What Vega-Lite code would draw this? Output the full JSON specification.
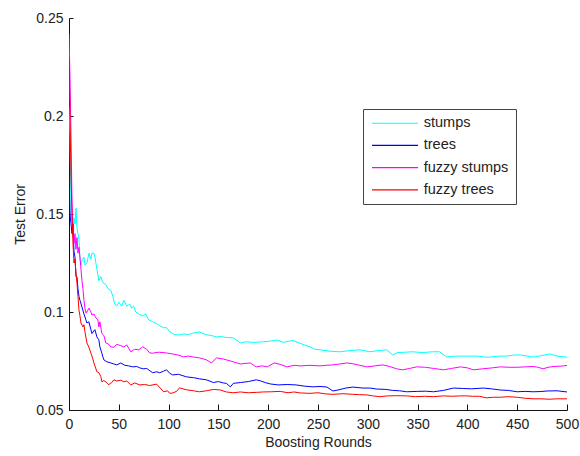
{
  "$schema": "https://vega.github.io/schema/vega-lite/v6.json",
  "width": 498,
  "height": 392,
  "autosize": "none",
  "padding": {"left": 69, "top": 18, "right": 13, "bottom": 46},
  "background": "white",
  "config": {
    "view": {"stroke": null},
    "font": "Liberation Sans",
    "axis": {
      "labelFont": "Liberation Sans",
      "titleFont": "Liberation Sans",
      "labelFontSize": 14,
      "titleFontSize": 14,
      "titleFontWeight": "normal",
      "labelColor": "#222",
      "titleColor": "#222",
      "domainColor": "#111",
      "tickColor": "#111",
      "domainWidth": 1,
      "tickWidth": 1,
      "grid": false
    }
  },
  "data": {
    "values": [
      {"round": 0, "model": "stumps", "error": 0.205},
      {"round": 1, "model": "stumps", "error": 0.19},
      {"round": 2, "model": "stumps", "error": 0.152},
      {"round": 3, "model": "stumps", "error": 0.145},
      {"round": 4, "model": "stumps", "error": 0.14},
      {"round": 5, "model": "stumps", "error": 0.148},
      {"round": 6, "model": "stumps", "error": 0.145},
      {"round": 7, "model": "stumps", "error": 0.153},
      {"round": 8, "model": "stumps", "error": 0.143},
      {"round": 9, "model": "stumps", "error": 0.14},
      {"round": 10, "model": "stumps", "error": 0.137},
      {"round": 11, "model": "stumps", "error": 0.127},
      {"round": 12, "model": "stumps", "error": 0.124},
      {"round": 13, "model": "stumps", "error": 0.126},
      {"round": 15, "model": "stumps", "error": 0.128},
      {"round": 16, "model": "stumps", "error": 0.124},
      {"round": 18, "model": "stumps", "error": 0.125},
      {"round": 20, "model": "stumps", "error": 0.13},
      {"round": 22, "model": "stumps", "error": 0.127},
      {"round": 23, "model": "stumps", "error": 0.13},
      {"round": 25, "model": "stumps", "error": 0.13},
      {"round": 26, "model": "stumps", "error": 0.128},
      {"round": 27, "model": "stumps", "error": 0.125},
      {"round": 28, "model": "stumps", "error": 0.122},
      {"round": 30, "model": "stumps", "error": 0.116},
      {"round": 32, "model": "stumps", "error": 0.118},
      {"round": 34, "model": "stumps", "error": 0.115},
      {"round": 37, "model": "stumps", "error": 0.114},
      {"round": 39, "model": "stumps", "error": 0.112},
      {"round": 42, "model": "stumps", "error": 0.111},
      {"round": 44, "model": "stumps", "error": 0.108},
      {"round": 46, "model": "stumps", "error": 0.104},
      {"round": 48, "model": "stumps", "error": 0.103},
      {"round": 50, "model": "stumps", "error": 0.105},
      {"round": 53, "model": "stumps", "error": 0.103},
      {"round": 55, "model": "stumps", "error": 0.106},
      {"round": 58, "model": "stumps", "error": 0.103},
      {"round": 61, "model": "stumps", "error": 0.104},
      {"round": 63, "model": "stumps", "error": 0.102},
      {"round": 65, "model": "stumps", "error": 0.103},
      {"round": 67, "model": "stumps", "error": 0.1},
      {"round": 70, "model": "stumps", "error": 0.099},
      {"round": 74, "model": "stumps", "error": 0.098},
      {"round": 77, "model": "stumps", "error": 0.099},
      {"round": 80, "model": "stumps", "error": 0.096},
      {"round": 84, "model": "stumps", "error": 0.095},
      {"round": 88, "model": "stumps", "error": 0.094},
      {"round": 91, "model": "stumps", "error": 0.093},
      {"round": 95, "model": "stumps", "error": 0.092},
      {"round": 98, "model": "stumps", "error": 0.092},
      {"round": 101, "model": "stumps", "error": 0.09},
      {"round": 104, "model": "stumps", "error": 0.089},
      {"round": 106, "model": "stumps", "error": 0.0885},
      {"round": 110, "model": "stumps", "error": 0.0883},
      {"round": 115, "model": "stumps", "error": 0.0888},
      {"round": 120, "model": "stumps", "error": 0.0885},
      {"round": 125, "model": "stumps", "error": 0.0893},
      {"round": 131, "model": "stumps", "error": 0.0898},
      {"round": 137, "model": "stumps", "error": 0.0885},
      {"round": 143, "model": "stumps", "error": 0.088},
      {"round": 148, "model": "stumps", "error": 0.0873},
      {"round": 152, "model": "stumps", "error": 0.0875},
      {"round": 158, "model": "stumps", "error": 0.087},
      {"round": 165, "model": "stumps", "error": 0.0868},
      {"round": 170, "model": "stumps", "error": 0.085},
      {"round": 172, "model": "stumps", "error": 0.0842},
      {"round": 178, "model": "stumps", "error": 0.0848},
      {"round": 185, "model": "stumps", "error": 0.0845},
      {"round": 192, "model": "stumps", "error": 0.0847},
      {"round": 200, "model": "stumps", "error": 0.085},
      {"round": 209, "model": "stumps", "error": 0.0857},
      {"round": 215, "model": "stumps", "error": 0.0845},
      {"round": 220, "model": "stumps", "error": 0.085},
      {"round": 225, "model": "stumps", "error": 0.0855},
      {"round": 232, "model": "stumps", "error": 0.084},
      {"round": 242, "model": "stumps", "error": 0.0822},
      {"round": 247, "model": "stumps", "error": 0.081},
      {"round": 252, "model": "stumps", "error": 0.0807},
      {"round": 262, "model": "stumps", "error": 0.08},
      {"round": 272, "model": "stumps", "error": 0.0797},
      {"round": 282, "model": "stumps", "error": 0.0803},
      {"round": 292, "model": "stumps", "error": 0.0807},
      {"round": 302, "model": "stumps", "error": 0.0797},
      {"round": 310, "model": "stumps", "error": 0.0803},
      {"round": 319, "model": "stumps", "error": 0.0807},
      {"round": 325, "model": "stumps", "error": 0.0781},
      {"round": 330, "model": "stumps", "error": 0.0793},
      {"round": 338, "model": "stumps", "error": 0.0795},
      {"round": 345, "model": "stumps", "error": 0.0797},
      {"round": 355, "model": "stumps", "error": 0.0793},
      {"round": 365, "model": "stumps", "error": 0.0797},
      {"round": 372, "model": "stumps", "error": 0.0797},
      {"round": 379, "model": "stumps", "error": 0.0771},
      {"round": 388, "model": "stumps", "error": 0.0775},
      {"round": 399, "model": "stumps", "error": 0.0775},
      {"round": 410, "model": "stumps", "error": 0.0775},
      {"round": 417, "model": "stumps", "error": 0.077},
      {"round": 423, "model": "stumps", "error": 0.077},
      {"round": 432, "model": "stumps", "error": 0.0775},
      {"round": 440, "model": "stumps", "error": 0.0775},
      {"round": 446, "model": "stumps", "error": 0.078},
      {"round": 453, "model": "stumps", "error": 0.0781},
      {"round": 460, "model": "stumps", "error": 0.0775},
      {"round": 466, "model": "stumps", "error": 0.077},
      {"round": 475, "model": "stumps", "error": 0.0778},
      {"round": 483, "model": "stumps", "error": 0.0786},
      {"round": 490, "model": "stumps", "error": 0.0775},
      {"round": 500, "model": "stumps", "error": 0.077},

      {"round": 0, "model": "trees", "error": 0.17},
      {"round": 1, "model": "trees", "error": 0.15},
      {"round": 2, "model": "trees", "error": 0.145},
      {"round": 3, "model": "trees", "error": 0.14},
      {"round": 4, "model": "trees", "error": 0.145},
      {"round": 5, "model": "trees", "error": 0.131},
      {"round": 6, "model": "trees", "error": 0.128},
      {"round": 7, "model": "trees", "error": 0.118},
      {"round": 8, "model": "trees", "error": 0.118},
      {"round": 9, "model": "trees", "error": 0.112},
      {"round": 10, "model": "trees", "error": 0.108},
      {"round": 11, "model": "trees", "error": 0.106},
      {"round": 13, "model": "trees", "error": 0.1026},
      {"round": 15, "model": "trees", "error": 0.099},
      {"round": 17, "model": "trees", "error": 0.096},
      {"round": 18, "model": "trees", "error": 0.0944},
      {"round": 20, "model": "trees", "error": 0.095},
      {"round": 22, "model": "trees", "error": 0.091},
      {"round": 23, "model": "trees", "error": 0.089},
      {"round": 26, "model": "trees", "error": 0.091},
      {"round": 28, "model": "trees", "error": 0.0873},
      {"round": 30, "model": "trees", "error": 0.0858},
      {"round": 31, "model": "trees", "error": 0.0822},
      {"round": 33, "model": "trees", "error": 0.079},
      {"round": 34, "model": "trees", "error": 0.0771},
      {"round": 35, "model": "trees", "error": 0.0756},
      {"round": 38, "model": "trees", "error": 0.0746},
      {"round": 42, "model": "trees", "error": 0.074},
      {"round": 45, "model": "trees", "error": 0.0735},
      {"round": 48, "model": "trees", "error": 0.073},
      {"round": 52, "model": "trees", "error": 0.074},
      {"round": 56, "model": "trees", "error": 0.0728},
      {"round": 60, "model": "trees", "error": 0.0725},
      {"round": 64, "model": "trees", "error": 0.072},
      {"round": 68, "model": "trees", "error": 0.0722},
      {"round": 71, "model": "trees", "error": 0.0715},
      {"round": 75, "model": "trees", "error": 0.071},
      {"round": 78, "model": "trees", "error": 0.0712},
      {"round": 84, "model": "trees", "error": 0.069},
      {"round": 88, "model": "trees", "error": 0.0695},
      {"round": 91, "model": "trees", "error": 0.069},
      {"round": 95, "model": "trees", "error": 0.0698},
      {"round": 98, "model": "trees", "error": 0.0705},
      {"round": 101, "model": "trees", "error": 0.0688},
      {"round": 104, "model": "trees", "error": 0.0679},
      {"round": 110, "model": "trees", "error": 0.0682},
      {"round": 118, "model": "trees", "error": 0.0669},
      {"round": 125, "model": "trees", "error": 0.0665},
      {"round": 131, "model": "trees", "error": 0.0659},
      {"round": 138, "model": "trees", "error": 0.0654},
      {"round": 145, "model": "trees", "error": 0.064},
      {"round": 150, "model": "trees", "error": 0.0645},
      {"round": 155, "model": "trees", "error": 0.0638},
      {"round": 158, "model": "trees", "error": 0.0636},
      {"round": 162, "model": "trees", "error": 0.0618},
      {"round": 165, "model": "trees", "error": 0.0636},
      {"round": 172, "model": "trees", "error": 0.064},
      {"round": 180, "model": "trees", "error": 0.0645},
      {"round": 188, "model": "trees", "error": 0.0654},
      {"round": 192, "model": "trees", "error": 0.0649},
      {"round": 197, "model": "trees", "error": 0.064},
      {"round": 202, "model": "trees", "error": 0.0633},
      {"round": 210, "model": "trees", "error": 0.0628},
      {"round": 219, "model": "trees", "error": 0.063},
      {"round": 228, "model": "trees", "error": 0.0628},
      {"round": 236, "model": "trees", "error": 0.0622},
      {"round": 245, "model": "trees", "error": 0.0618},
      {"round": 252, "model": "trees", "error": 0.062},
      {"round": 259, "model": "trees", "error": 0.0617},
      {"round": 265, "model": "trees", "error": 0.0597},
      {"round": 270, "model": "trees", "error": 0.0602},
      {"round": 278, "model": "trees", "error": 0.0612},
      {"round": 285, "model": "trees", "error": 0.0617},
      {"round": 295, "model": "trees", "error": 0.0612},
      {"round": 302, "model": "trees", "error": 0.0612},
      {"round": 309, "model": "trees", "error": 0.0607},
      {"round": 318, "model": "trees", "error": 0.0605},
      {"round": 325, "model": "trees", "error": 0.06},
      {"round": 332, "model": "trees", "error": 0.0598},
      {"round": 339, "model": "trees", "error": 0.0593},
      {"round": 350, "model": "trees", "error": 0.0595},
      {"round": 358, "model": "trees", "error": 0.0596},
      {"round": 366, "model": "trees", "error": 0.0593},
      {"round": 376, "model": "trees", "error": 0.06},
      {"round": 386, "model": "trees", "error": 0.0612},
      {"round": 395, "model": "trees", "error": 0.061},
      {"round": 404, "model": "trees", "error": 0.0608},
      {"round": 416, "model": "trees", "error": 0.0612},
      {"round": 424, "model": "trees", "error": 0.0608},
      {"round": 433, "model": "trees", "error": 0.0602},
      {"round": 441, "model": "trees", "error": 0.06},
      {"round": 450, "model": "trees", "error": 0.0593},
      {"round": 458, "model": "trees", "error": 0.0595},
      {"round": 466, "model": "trees", "error": 0.0593},
      {"round": 473, "model": "trees", "error": 0.0594},
      {"round": 480, "model": "trees", "error": 0.0597},
      {"round": 490, "model": "trees", "error": 0.0598},
      {"round": 500, "model": "trees", "error": 0.0592},

      {"round": 0, "model": "fuzzy stumps", "error": 0.242},
      {"round": 1, "model": "fuzzy stumps", "error": 0.22},
      {"round": 2, "model": "fuzzy stumps", "error": 0.19},
      {"round": 3, "model": "fuzzy stumps", "error": 0.157},
      {"round": 4, "model": "fuzzy stumps", "error": 0.14},
      {"round": 5, "model": "fuzzy stumps", "error": 0.135},
      {"round": 6, "model": "fuzzy stumps", "error": 0.14},
      {"round": 7, "model": "fuzzy stumps", "error": 0.132},
      {"round": 8, "model": "fuzzy stumps", "error": 0.138},
      {"round": 9, "model": "fuzzy stumps", "error": 0.13},
      {"round": 10, "model": "fuzzy stumps", "error": 0.133},
      {"round": 11, "model": "fuzzy stumps", "error": 0.128},
      {"round": 12, "model": "fuzzy stumps", "error": 0.122},
      {"round": 13, "model": "fuzzy stumps", "error": 0.116},
      {"round": 14, "model": "fuzzy stumps", "error": 0.112},
      {"round": 15, "model": "fuzzy stumps", "error": 0.106},
      {"round": 16, "model": "fuzzy stumps", "error": 0.102},
      {"round": 17, "model": "fuzzy stumps", "error": 0.0995},
      {"round": 18, "model": "fuzzy stumps", "error": 0.1},
      {"round": 20, "model": "fuzzy stumps", "error": 0.102},
      {"round": 22, "model": "fuzzy stumps", "error": 0.1},
      {"round": 23, "model": "fuzzy stumps", "error": 0.0985},
      {"round": 25, "model": "fuzzy stumps", "error": 0.099},
      {"round": 27, "model": "fuzzy stumps", "error": 0.097},
      {"round": 29, "model": "fuzzy stumps", "error": 0.096},
      {"round": 30, "model": "fuzzy stumps", "error": 0.0924},
      {"round": 31, "model": "fuzzy stumps", "error": 0.095},
      {"round": 33, "model": "fuzzy stumps", "error": 0.089},
      {"round": 35, "model": "fuzzy stumps", "error": 0.088},
      {"round": 37, "model": "fuzzy stumps", "error": 0.0842},
      {"round": 40, "model": "fuzzy stumps", "error": 0.0835},
      {"round": 42, "model": "fuzzy stumps", "error": 0.0822},
      {"round": 45, "model": "fuzzy stumps", "error": 0.082},
      {"round": 48, "model": "fuzzy stumps", "error": 0.0835},
      {"round": 52, "model": "fuzzy stumps", "error": 0.0828},
      {"round": 55, "model": "fuzzy stumps", "error": 0.0822},
      {"round": 58, "model": "fuzzy stumps", "error": 0.0832},
      {"round": 62, "model": "fuzzy stumps", "error": 0.0797},
      {"round": 66, "model": "fuzzy stumps", "error": 0.081},
      {"round": 70, "model": "fuzzy stumps", "error": 0.0807},
      {"round": 74, "model": "fuzzy stumps", "error": 0.0822},
      {"round": 78, "model": "fuzzy stumps", "error": 0.081},
      {"round": 81, "model": "fuzzy stumps", "error": 0.0791},
      {"round": 84, "model": "fuzzy stumps", "error": 0.079},
      {"round": 90, "model": "fuzzy stumps", "error": 0.0795},
      {"round": 98, "model": "fuzzy stumps", "error": 0.0791},
      {"round": 104, "model": "fuzzy stumps", "error": 0.0786},
      {"round": 110, "model": "fuzzy stumps", "error": 0.078},
      {"round": 115, "model": "fuzzy stumps", "error": 0.0771},
      {"round": 120, "model": "fuzzy stumps", "error": 0.0775},
      {"round": 125, "model": "fuzzy stumps", "error": 0.077},
      {"round": 131, "model": "fuzzy stumps", "error": 0.0766},
      {"round": 138, "model": "fuzzy stumps", "error": 0.0756},
      {"round": 143, "model": "fuzzy stumps", "error": 0.074},
      {"round": 148, "model": "fuzzy stumps", "error": 0.0766},
      {"round": 155, "model": "fuzzy stumps", "error": 0.076},
      {"round": 165, "model": "fuzzy stumps", "error": 0.0746},
      {"round": 172, "model": "fuzzy stumps", "error": 0.0735},
      {"round": 182, "model": "fuzzy stumps", "error": 0.074},
      {"round": 188, "model": "fuzzy stumps", "error": 0.072},
      {"round": 194, "model": "fuzzy stumps", "error": 0.0725},
      {"round": 199, "model": "fuzzy stumps", "error": 0.072},
      {"round": 206, "model": "fuzzy stumps", "error": 0.074},
      {"round": 212, "model": "fuzzy stumps", "error": 0.0733},
      {"round": 219, "model": "fuzzy stumps", "error": 0.072},
      {"round": 226, "model": "fuzzy stumps", "error": 0.0728},
      {"round": 232, "model": "fuzzy stumps", "error": 0.0725},
      {"round": 242, "model": "fuzzy stumps", "error": 0.0728},
      {"round": 252, "model": "fuzzy stumps", "error": 0.0725},
      {"round": 258, "model": "fuzzy stumps", "error": 0.0728},
      {"round": 265, "model": "fuzzy stumps", "error": 0.073},
      {"round": 272, "model": "fuzzy stumps", "error": 0.0735},
      {"round": 279, "model": "fuzzy stumps", "error": 0.074},
      {"round": 286, "model": "fuzzy stumps", "error": 0.0735},
      {"round": 292, "model": "fuzzy stumps", "error": 0.0728},
      {"round": 299, "model": "fuzzy stumps", "error": 0.072},
      {"round": 307, "model": "fuzzy stumps", "error": 0.0725},
      {"round": 315, "model": "fuzzy stumps", "error": 0.073},
      {"round": 322, "model": "fuzzy stumps", "error": 0.0722},
      {"round": 329, "model": "fuzzy stumps", "error": 0.071},
      {"round": 335, "model": "fuzzy stumps", "error": 0.0705},
      {"round": 342, "model": "fuzzy stumps", "error": 0.0712},
      {"round": 349, "model": "fuzzy stumps", "error": 0.072},
      {"round": 358, "model": "fuzzy stumps", "error": 0.0718},
      {"round": 366, "model": "fuzzy stumps", "error": 0.0712},
      {"round": 376, "model": "fuzzy stumps", "error": 0.0705},
      {"round": 384, "model": "fuzzy stumps", "error": 0.0712},
      {"round": 393, "model": "fuzzy stumps", "error": 0.072},
      {"round": 400, "model": "fuzzy stumps", "error": 0.0715},
      {"round": 406, "model": "fuzzy stumps", "error": 0.0705},
      {"round": 415, "model": "fuzzy stumps", "error": 0.071},
      {"round": 425, "model": "fuzzy stumps", "error": 0.0715},
      {"round": 433, "model": "fuzzy stumps", "error": 0.072},
      {"round": 442, "model": "fuzzy stumps", "error": 0.0718},
      {"round": 450, "model": "fuzzy stumps", "error": 0.0718},
      {"round": 458, "model": "fuzzy stumps", "error": 0.072},
      {"round": 466, "model": "fuzzy stumps", "error": 0.0722},
      {"round": 471, "model": "fuzzy stumps", "error": 0.0718},
      {"round": 476, "model": "fuzzy stumps", "error": 0.071},
      {"round": 481, "model": "fuzzy stumps", "error": 0.0718},
      {"round": 487, "model": "fuzzy stumps", "error": 0.0722},
      {"round": 494, "model": "fuzzy stumps", "error": 0.0724},
      {"round": 500, "model": "fuzzy stumps", "error": 0.0727},

      {"round": 0, "model": "fuzzy trees", "error": 0.23},
      {"round": 1, "model": "fuzzy trees", "error": 0.2},
      {"round": 2, "model": "fuzzy trees", "error": 0.17},
      {"round": 3, "model": "fuzzy trees", "error": 0.15},
      {"round": 4, "model": "fuzzy trees", "error": 0.135},
      {"round": 5, "model": "fuzzy trees", "error": 0.125},
      {"round": 6, "model": "fuzzy trees", "error": 0.127},
      {"round": 7, "model": "fuzzy trees", "error": 0.12},
      {"round": 8, "model": "fuzzy trees", "error": 0.115},
      {"round": 9, "model": "fuzzy trees", "error": 0.108},
      {"round": 10, "model": "fuzzy trees", "error": 0.101},
      {"round": 11, "model": "fuzzy trees", "error": 0.098},
      {"round": 12, "model": "fuzzy trees", "error": 0.0944},
      {"round": 14, "model": "fuzzy trees", "error": 0.0924},
      {"round": 15, "model": "fuzzy trees", "error": 0.0935},
      {"round": 16, "model": "fuzzy trees", "error": 0.09},
      {"round": 18, "model": "fuzzy trees", "error": 0.0842},
      {"round": 20, "model": "fuzzy trees", "error": 0.082},
      {"round": 22, "model": "fuzzy trees", "error": 0.079},
      {"round": 24, "model": "fuzzy trees", "error": 0.076},
      {"round": 25, "model": "fuzzy trees", "error": 0.074},
      {"round": 27, "model": "fuzzy trees", "error": 0.071},
      {"round": 28, "model": "fuzzy trees", "error": 0.0695},
      {"round": 30, "model": "fuzzy trees", "error": 0.069},
      {"round": 32, "model": "fuzzy trees", "error": 0.067},
      {"round": 33, "model": "fuzzy trees", "error": 0.0644},
      {"round": 35, "model": "fuzzy trees", "error": 0.065},
      {"round": 38, "model": "fuzzy trees", "error": 0.064},
      {"round": 40, "model": "fuzzy trees", "error": 0.0628},
      {"round": 41, "model": "fuzzy trees", "error": 0.0635},
      {"round": 43, "model": "fuzzy trees", "error": 0.064},
      {"round": 45, "model": "fuzzy trees", "error": 0.0654},
      {"round": 48, "model": "fuzzy trees", "error": 0.0648},
      {"round": 52, "model": "fuzzy trees", "error": 0.0652},
      {"round": 55, "model": "fuzzy trees", "error": 0.0644},
      {"round": 58, "model": "fuzzy trees", "error": 0.0648},
      {"round": 62, "model": "fuzzy trees", "error": 0.0628},
      {"round": 66, "model": "fuzzy trees", "error": 0.0638},
      {"round": 71, "model": "fuzzy trees", "error": 0.0628},
      {"round": 76, "model": "fuzzy trees", "error": 0.063},
      {"round": 81, "model": "fuzzy trees", "error": 0.0625},
      {"round": 88, "model": "fuzzy trees", "error": 0.0632},
      {"round": 95, "model": "fuzzy trees", "error": 0.0593},
      {"round": 99, "model": "fuzzy trees", "error": 0.0598},
      {"round": 101, "model": "fuzzy trees", "error": 0.0585},
      {"round": 104, "model": "fuzzy trees", "error": 0.0587},
      {"round": 108, "model": "fuzzy trees", "error": 0.0595},
      {"round": 111, "model": "fuzzy trees", "error": 0.0613},
      {"round": 118, "model": "fuzzy trees", "error": 0.0603},
      {"round": 125, "model": "fuzzy trees", "error": 0.0598},
      {"round": 131, "model": "fuzzy trees", "error": 0.0593},
      {"round": 138, "model": "fuzzy trees", "error": 0.0598},
      {"round": 145, "model": "fuzzy trees", "error": 0.0605},
      {"round": 152, "model": "fuzzy trees", "error": 0.0602},
      {"round": 158, "model": "fuzzy trees", "error": 0.0592},
      {"round": 165, "model": "fuzzy trees", "error": 0.0588},
      {"round": 172, "model": "fuzzy trees", "error": 0.0592},
      {"round": 180, "model": "fuzzy trees", "error": 0.0588},
      {"round": 188, "model": "fuzzy trees", "error": 0.059},
      {"round": 195, "model": "fuzzy trees", "error": 0.0592},
      {"round": 203, "model": "fuzzy trees", "error": 0.0593},
      {"round": 212, "model": "fuzzy trees", "error": 0.0595},
      {"round": 220, "model": "fuzzy trees", "error": 0.0588},
      {"round": 226, "model": "fuzzy trees", "error": 0.0592},
      {"round": 232, "model": "fuzzy trees", "error": 0.0587},
      {"round": 242, "model": "fuzzy trees", "error": 0.0585},
      {"round": 250, "model": "fuzzy trees", "error": 0.0588},
      {"round": 258, "model": "fuzzy trees", "error": 0.0582},
      {"round": 265, "model": "fuzzy trees", "error": 0.058},
      {"round": 275, "model": "fuzzy trees", "error": 0.0583},
      {"round": 285, "model": "fuzzy trees", "error": 0.058},
      {"round": 292, "model": "fuzzy trees", "error": 0.0578},
      {"round": 299, "model": "fuzzy trees", "error": 0.0577},
      {"round": 305, "model": "fuzzy trees", "error": 0.0572},
      {"round": 312, "model": "fuzzy trees", "error": 0.0568},
      {"round": 320, "model": "fuzzy trees", "error": 0.0572},
      {"round": 329, "model": "fuzzy trees", "error": 0.0573},
      {"round": 339, "model": "fuzzy trees", "error": 0.0572},
      {"round": 348, "model": "fuzzy trees", "error": 0.0568},
      {"round": 357, "model": "fuzzy trees", "error": 0.057},
      {"round": 366, "model": "fuzzy trees", "error": 0.0568},
      {"round": 376, "model": "fuzzy trees", "error": 0.0572},
      {"round": 385, "model": "fuzzy trees", "error": 0.057},
      {"round": 393, "model": "fuzzy trees", "error": 0.0572},
      {"round": 399, "model": "fuzzy trees", "error": 0.0572},
      {"round": 405, "model": "fuzzy trees", "error": 0.057},
      {"round": 412, "model": "fuzzy trees", "error": 0.057},
      {"round": 419, "model": "fuzzy trees", "error": 0.0562},
      {"round": 426, "model": "fuzzy trees", "error": 0.0565},
      {"round": 433, "model": "fuzzy trees", "error": 0.0565},
      {"round": 441, "model": "fuzzy trees", "error": 0.0568},
      {"round": 450, "model": "fuzzy trees", "error": 0.0565},
      {"round": 458, "model": "fuzzy trees", "error": 0.056},
      {"round": 466, "model": "fuzzy trees", "error": 0.0557},
      {"round": 474, "model": "fuzzy trees", "error": 0.0557},
      {"round": 482, "model": "fuzzy trees", "error": 0.0555},
      {"round": 490, "model": "fuzzy trees", "error": 0.0557},
      {"round": 500, "model": "fuzzy trees", "error": 0.0557}
    ]
  },
  "mark": {"type": "line", "strokeWidth": 1, "clip": true, "interpolate": "linear"},
  "encoding": {
    "x": {
      "field": "round",
      "type": "quantitative",
      "scale": {"domain": [0, 500], "nice": false, "zero": false},
      "axis": {
        "title": "Boosting Rounds",
        "values": [0, 50, 100, 150, 200, 250, 300, 350, 400, 450, 500],
        "tickSize": -6,
        "labelPadding": 13,
        "titlePadding": 4,
        "labelFlush": false
      }
    },
    "y": {
      "field": "error",
      "type": "quantitative",
      "scale": {"domain": [0.05, 0.25], "nice": false, "zero": false},
      "axis": {
        "title": "Test Error",
        "values": [0.05, 0.1, 0.15, 0.2, 0.25],
        "format": "~g",
        "tickSize": -4,
        "labelPadding": 10,
        "titlePadding": 8,
        "labelFlush": false
      }
    },
    "color": {
      "field": "model",
      "type": "nominal",
      "scale": {
        "domain": ["stumps", "trees", "fuzzy stumps", "fuzzy trees"],
        "range": ["#00ffff", "#0000ff", "#ff00ff", "#ff0000"]
      },
      "legend": {
        "title": null,
        "orient": "none",
        "legendX": 294,
        "legendY": 91,
        "symbolType": "M-4,0H4",
        "symbolSize": 132.25,
        "symbolStrokeWidth": 1.2,
        "symbolOffset": 17.75,
        "labelOffset": 21.5,
        "labelFont": "Liberation Sans",
        "labelFontSize": 14.5,
        "labelColor": "#222",
        "rowPadding": 7.2,
        "padding": 7,
        "strokeColor": "#444",
        "fillColor": "white",
        "labelLimit": 200
      }
    },
    "order": {"field": "round", "type": "quantitative"}
  }
}
